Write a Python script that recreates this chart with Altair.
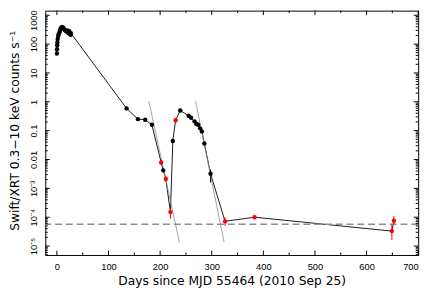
import altair as alt
import pandas as pd

# ---------------- data ----------------
days = [0.0, 0.3, 0.6, 1.0, 1.5, 2.5, 3.5, 5.0, 6.0, 7.0, 8.5, 10.0, 11.5, 13.0,
        14.5, 16.0, 18.0, 20.0, 21.0, 22.5, 24.0, 25.0, 26.5, 27.0,
        135, 157, 171, 184, 202, 206, 211, 220, 224.6, 230, 239, 255, 260,
        266.7, 270, 273.7, 277.5, 281, 285.7, 297.7, 325.8, 383, 649, 653]
rates = [47, 66, 91, 117, 150, 190, 220, 260, 300, 340, 370, 390, 380, 350,
         320, 300, 280, 300, 260, 240, 280, 230, 210, 240,
         0.59, 0.25, 0.24, 0.16, 0.0079, 0.0042, 0.0021, 1.5e-4, 0.044, 0.23, 0.5, 0.33, 0.28,
         0.21, 0.17, 0.16, 0.12, 0.094, 0.036, 0.0032, 7.2e-5, 1.0e-4, 3.3e-5, 7.6e-5]
red_days = [202, 211, 220, 230, 325.8, 383, 649, 653]

eb_days = [202, 211, 220, 230, 297.7, 325.8, 383, 649, 653]
eb_lo = [0.0066, 0.0017, 8.9e-5, 0.19, 1.6e-3, 5.0e-5, 8.8e-5, 1.6e-5, 5.5e-5]
eb_hi = [0.0094, 0.0026, 2.0e-4, 0.27, 4.5e-3, 1.0e-4, 1.15e-4, 5.5e-5, 1.1e-4]
eb_kind = ["red", "red", "red", "red", "black", "red", "red", "red", "red"]

fit_id = ["a", "a", "b", "b"]
fit_days = [178, 237.4, 268.6, 324]
fit_rates = [1.07, 1.35e-5, 1.07, 1.35e-5]

level = 5.7e-5

x_major = [0, 100, 200, 300, 400, 500, 600, 700]
x_minor = [50, 150, 250, 350, 450, 550, 650]
y_major = [1e-5, 1e-4, 1e-3, 0.01, 0.1, 1, 10, 100, 1000]
y_labels = ["10⁻⁵", "10⁻⁴", "10⁻³", "0.01", "0.1", "1", "10", "100", "1000"]
y_minor = [m * 10.0 ** k for k in range(-6, 3) for m in range(2, 10)
           if 4.9e-6 <= m * 10.0 ** k <= 1445]

x_title = "Days since MJD 55464 (2010 Sep 25)"
y_title = "Swift/XRT 0.3−10 keV counts s⁻¹"

# ---------------- tables ----------------
pts = pd.DataFrame({"day": days, "rate": rates,
                    "kind": ["red" if d in red_days else "black" for d in days]})
ebs = pd.DataFrame({"day": eb_days, "lo": eb_lo, "hi": eb_hi, "kind": eb_kind})
fits = pd.DataFrame({"fit": fit_id, "day": fit_days, "rate": fit_rates})
lev = pd.DataFrame({"level": [level]})

W, H = 380, 249
xscale = alt.Scale(domain=[-22.5, 700], nice=False, zero=False)
yscale = alt.Scale(type="log", domain=[4.9e-6, 1445], nice=False)
cscale = alt.Scale(domain=["black", "red"], range=["#000000", "#ff0000"])

expr = ""
for v, lab in sorted(zip(y_major, y_labels), reverse=True):
    expr += f"datum.value > {v * 0.5!r} ? '{lab}' : "
expr += "''"

xaxis = alt.Axis(values=x_major, ticks=False, tickSize=0, domain=False, grid=False,
                 labelPadding=7, labelFont="Liberation Sans", labelFontSize=9.5,
                 labelColor="black", title=x_title, titleFont="DejaVu Sans",
                 titleFontSize=12.5, titleFontWeight="normal", titleColor="black",
                 titleY=30, titleBaseline="alphabetic")
yaxis = alt.Axis(values=y_major, labelExpr=expr, ticks=False, tickSize=0, domain=False,
                 grid=False, labelAngle=270, labelAlign="center",
                 labelBaseline="alphabetic", labelPadding=8.5,
                 labelOffset={"condition": {"test": "datum.value > 500", "value": 5}, "value": 0},
                 labelFont="Liberation Sans", labelFontSize=9.5, labelColor="black",
                 title=y_title, titleFont="DejaVu Sans", titleFontSize=12.5,
                 titleFontWeight="normal", titleColor="black", titleAngle=270,
                 titleX=-37, titleY=122, titleAlign="center", titleBaseline="top")

line = alt.Chart(pts).mark_line(color="black", strokeWidth=0.9).encode(
    x=alt.X("day:Q", scale=xscale, axis=xaxis),
    y=alt.Y("rate:Q", scale=yscale, axis=yaxis),
    order="day:Q")

fit = alt.Chart(fits).mark_line(color="#8a8a8a", strokeWidth=0.8).encode(
    x=alt.X("day:Q", scale=xscale), y=alt.Y("rate:Q", scale=yscale), detail="fit:N")

dash = alt.Chart(lev).mark_rule(color="#8c8c8c", strokeWidth=1.5, strokeDash=[7, 4]).encode(
    y=alt.Y("level:Q", scale=yscale))

err = alt.Chart(ebs).mark_rule(strokeWidth=1).encode(
    x=alt.X("day:Q", scale=xscale), y=alt.Y("lo:Q", scale=yscale), y2="hi:Q",
    color=alt.Color("kind:N", scale=cscale, legend=None))

dots = alt.Chart(pts).mark_circle(size=20, opacity=1).encode(
    x=alt.X("day:Q", scale=xscale), y=alt.Y("rate:Q", scale=yscale),
    color=alt.Color("kind:N", scale=cscale, legend=None))


def xticks(vals, length):
    d = pd.DataFrame({"t": vals})
    base = alt.Chart(d).mark_rule(color="black", strokeWidth=1)
    return [base.encode(x=alt.X("t:Q", scale=xscale), y=alt.value(H), y2=alt.value(H - length)),
            base.encode(x=alt.X("t:Q", scale=xscale), y=alt.value(0), y2=alt.value(length))]


def yticks(vals, length):
    d = pd.DataFrame({"t": vals})
    base = alt.Chart(d).mark_rule(color="black", strokeWidth=1)
    return [base.encode(y=alt.Y("t:Q", scale=yscale), x=alt.value(0), x2=alt.value(length)),
            base.encode(y=alt.Y("t:Q", scale=yscale), x=alt.value(W), x2=alt.value(W - length))]


tick_layers = xticks(x_major, 4.5) + xticks(x_minor, 2.5) + yticks(y_major, 4.5) + yticks(y_minor, 2.5)

chart = alt.layer(line, dash, fit, err, dots, *tick_layers).properties(
    width=W, height=H,
    padding={"left": 38, "top": 0, "right": 10, "bottom": 34},
    autosize=alt.AutoSizeParams(type="none"),
    background="white",
).configure_view(stroke="black", strokeWidth=1)

chart.save("out.html", embed_options={"renderer": "svg", "actions": False})
